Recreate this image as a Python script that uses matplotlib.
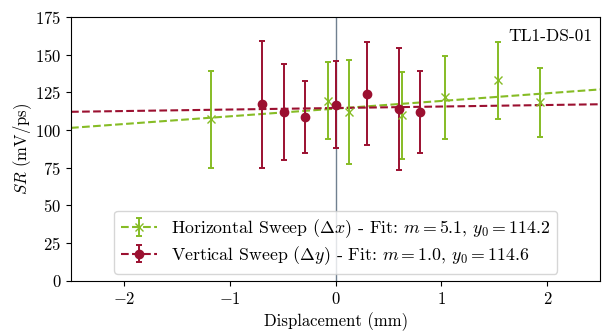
import matplotlib.pyplot as plt
import numpy as np

plt.rcParams['font.family'] = 'serif'
plt.rcParams['font.serif'] = ['cmr10']
plt.rcParams['mathtext.fontset'] = 'cm'
plt.rcParams['axes.formatter.use_mathtext'] = True
plt.rcParams['font.size'] = 12

# horizontal sweep (delta x)
hx = [-1.18, -0.07, 0.13, 0.63, 1.03, 1.53, 1.93]
hy = [107.0, 119.5, 112.0, 109.8, 121.7, 132.9, 118.3]
herr = [32.0, 25.7, 34.5, 28.8, 27.5, 25.5, 22.6]
h_m, h_y0 = 5.1, 114.2

# vertical sweep (delta y)
vx = [-0.70, -0.49, -0.29, 0.0, 0.30, 0.60, 0.80]
vy = [117.0, 112.0, 108.7, 116.8, 124.2, 114.0, 112.2]
verr = [42.0, 31.7, 23.7, 29.0, 34.0, 40.3, 27.2]
v_m, v_y0 = 1.0, 114.6

green = '#86bc25'
red = '#9b1030'

fig = plt.figure(figsize=(6.02, 3.32), dpi=100)
ax = fig.add_axes([0.118, 0.154, 0.879, 0.795])

ax.axvline(0, color='slategray', linewidth=1, zorder=1)

xfit = np.linspace(-2.5, 2.5, 50)

ax.errorbar(hx, hy, yerr=herr, fmt='x', color=green, capsize=2.5,
            markersize=6, elinewidth=1.4, capthick=1.4, zorder=3)
ax.plot(xfit, h_m * xfit + h_y0, '--', color=green, linewidth=1.5, zorder=2)

ax.errorbar(vx, vy, yerr=verr, fmt='o', color=red, capsize=2.5,
            markersize=6, elinewidth=1.4, capthick=1.4, zorder=3)
ax.plot(xfit, v_m * xfit + v_y0, '--', color=red, linewidth=1.5, zorder=2)

# legend proxies: errorbar marker with dashed line
hp = ax.errorbar([np.nan], [np.nan], yerr=[1], fmt='x--', color=green,
                 capsize=2.5, markersize=6, elinewidth=1.4, capthick=1.4, linewidth=1.5)
vp = ax.errorbar([np.nan], [np.nan], yerr=[1], fmt='o--', color=red,
                 capsize=2.5, markersize=6, elinewidth=1.4, capthick=1.4, linewidth=1.5)
ax.legend([hp, vp],
          [r'Horizontal Sweep ($\Delta x$) - Fit: $m = 5.1$, $y_0 = 114.2$',
           r'Vertical Sweep ($\Delta y$) - Fit: $m = 1.0$, $y_0 = 114.6$'],
          loc='lower center', fontsize=12.8, labelspacing=0.2,
          handlelength=2.0, borderaxespad=0.4)

ax.text(0.985, 0.955, 'TL1-DS-01', transform=ax.transAxes,
        ha='right', va='top', fontsize=12.5)

ax.set_xlim(-2.5, 2.5)
ax.set_ylim(0, 175)
ax.set_xticks([-2, -1, 0, 1, 2])
ax.set_yticks(range(0, 176, 25))
ax.set_xlabel('Displacement (mm)')
ax.set_ylabel(r'$SR$ (mV/ps)', labelpad=1)

fig.savefig('out.png', dpi=100)
